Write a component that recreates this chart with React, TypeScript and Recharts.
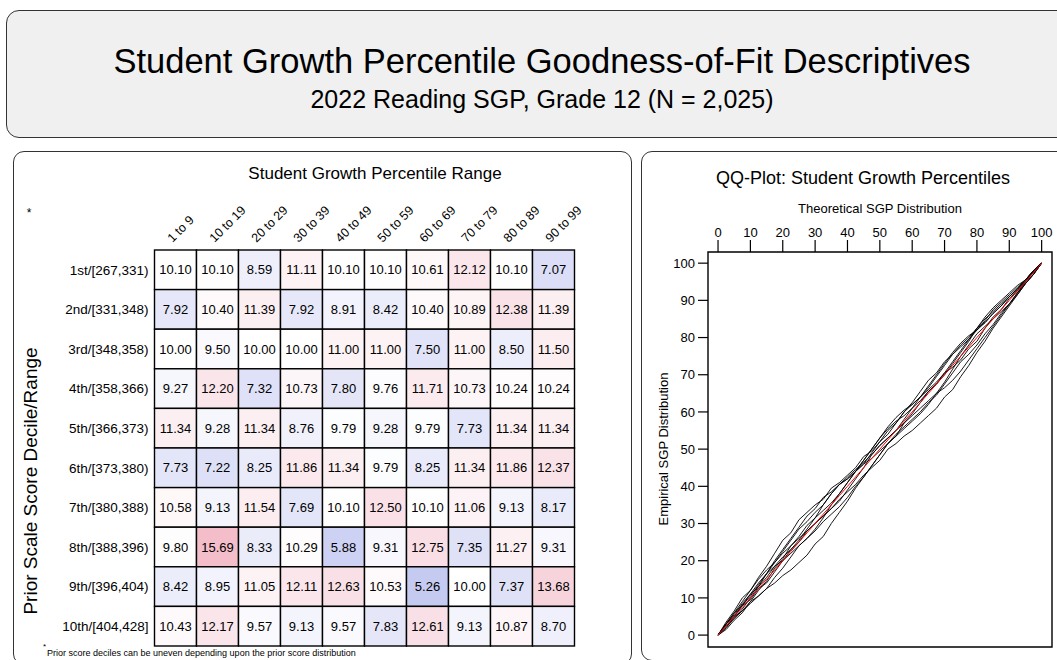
import React from "react";
import {
  Line,
  LineChart,
  ReferenceArea,
  Scatter,
  ScatterChart,
  XAxis,
  YAxis,
} from "recharts";

const FONT = '"Liberation Sans", Arial, Helvetica, sans-serif';

// heatmap: prior score decile rows x SGP range columns
const colLabels = ["1 to 9", "10 to 19", "20 to 29", "30 to 39", "40 to 49", "50 to 59", "60 to 69", "70 to 79", "80 to 89", "90 to 99"];
const rowLabels = [
  "1st/[267,331)",
  "2nd/[331,348)",
  "3rd/[348,358)",
  "4th/[358,366)",
  "5th/[366,373)",
  "6th/[373,380)",
  "7th/[380,388)",
  "8th/[388,396)",
  "9th/[396,404)",
  "10th/[404,428]",
];
const rowPct = ["(9.8%)", "(10%)", "(9.9%)", "(10.1%)", "(9.6%)", "(9.6%)", "(10.3%)", "(10.1%)", "(9.4%)", "(11.4%)"];

const dec1 = [10.1, 10.1, 8.59, 11.11, 10.1, 10.1, 10.61, 12.12, 10.1, 7.07];
const dec2 = [7.92, 10.4, 11.39, 7.92, 8.91, 8.42, 10.4, 10.89, 12.38, 11.39];
const dec3 = [10.0, 9.5, 10.0, 10.0, 11.0, 11.0, 7.5, 11.0, 8.5, 11.5];
const dec4 = [9.27, 12.2, 7.32, 10.73, 7.8, 9.76, 11.71, 10.73, 10.24, 10.24];
const dec5 = [11.34, 9.28, 11.34, 8.76, 9.79, 9.28, 9.79, 7.73, 11.34, 11.34];
const dec6 = [7.73, 7.22, 8.25, 11.86, 11.34, 9.79, 8.25, 11.34, 11.86, 12.37];
const dec7 = [10.58, 9.13, 11.54, 7.69, 10.1, 12.5, 10.1, 11.06, 9.13, 8.17];
const dec8 = [9.8, 15.69, 8.33, 10.29, 5.88, 9.31, 12.75, 7.35, 11.27, 9.31];
const dec9 = [8.42, 8.95, 11.05, 12.11, 12.63, 10.53, 5.26, 10.0, 7.37, 13.68];
const dec10 = [10.43, 12.17, 9.57, 9.13, 9.57, 7.83, 12.61, 9.13, 10.87, 8.7];
const decileRows = [dec1, dec2, dec3, dec4, dec5, dec6, dec7, dec8, dec9, dec10];

// QQ plot: theoretical vs empirical SGP per prior decile
const qqTicks = [0, 10, 20, 30, 40, 50, 60, 70, 80, 90, 100];
const qqX = [0, 2.5, 5, 7.5, 10, 12.5, 15, 17.5, 20, 22.5, 25, 27.5, 30, 32.5, 35, 37.5, 40, 42.5, 45, 47.5, 50, 52.5, 55, 57.5, 60, 62.5, 65, 67.5, 70, 72.5, 75, 77.5, 80, 82.5, 85, 87.5, 90, 92.5, 95, 97.5, 100];
const qq1 = [0, 3.5, 6.5, 10, 12, 15.5, 18.5, 22, 25.5, 27.5, 31, 33, 35, 36.5, 39.5, 41, 43, 45, 48, 49.5, 52, 54, 57, 60, 62.5, 65.5, 68.5, 70.5, 73.5, 75.5, 77.5, 79.5, 82, 84, 86.5, 88.5, 91, 93, 95.5, 98, 100];
const qq2 = [0, 2, 5, 6.5, 8.5, 10.5, 12.5, 14, 16, 17.5, 19.5, 21.5, 24.5, 26.5, 30, 33, 36, 39.5, 42.5, 45.5, 48.5, 51.5, 53.5, 57, 59.5, 62.5, 65.5, 67.5, 70.5, 72, 74, 77, 79, 82.5, 85.5, 87.5, 90.5, 92.5, 95, 98, 100];
const qq3 = [0, 3, 5, 8, 9.5, 12.5, 14, 17, 20, 23, 25, 28, 30, 32, 34, 36.5, 38.5, 40.5, 43, 45, 47, 50, 51.5, 53.5, 55, 57, 59, 61, 64, 66, 69.5, 72.5, 76, 79, 82.5, 85.5, 88.5, 91.5, 94.5, 97, 100];
const qq4 = [0, 3, 6, 8, 11, 13, 16.5, 19.5, 22.5, 25.5, 28.5, 30.5, 33, 35, 38, 40.5, 42.5, 44.5, 46.5, 48.5, 51, 53, 55, 57, 59, 61, 63, 65, 66.5, 68.5, 71, 74, 77, 80, 83, 86, 89, 92, 95, 97.5, 100];
const qq5 = [0, 1.5, 4, 6, 9, 12, 14.5, 18, 20.5, 24, 26.5, 29.5, 31.5, 33.5, 35.5, 38, 41, 44, 46, 49, 52, 55, 57, 60, 62, 64, 66.5, 69.5, 72.5, 75.5, 78, 80, 82.5, 84, 86.5, 88.5, 91, 93, 95.5, 98, 100];
const qq6 = [0, 3, 6, 9, 12, 15, 17.5, 19.5, 22, 24, 26, 28, 30, 32, 34, 36, 39, 42, 45, 48.5, 51, 53, 55, 58, 61, 64, 67, 70, 73, 76, 78.5, 80.5, 82, 84.5, 87.5, 89.5, 91.5, 93.5, 95.5, 98, 100];
const qq7 = [0, 2, 4.5, 6.5, 9, 10.5, 12.5, 15.5, 18, 21, 24, 26, 28, 30.5, 32.5, 34.5, 37, 40, 42.5, 45.5, 48.5, 51.5, 54, 56, 58, 60, 62.5, 64.5, 67.5, 70.5, 73.5, 75.5, 78, 81, 83.5, 86.5, 89, 92, 94.5, 97, 100];
const qq8 = [0, 3, 5, 8, 10.5, 13.5, 16.5, 20, 23, 26, 29, 32, 34, 37, 38.5, 40.5, 42, 44, 47, 50, 53, 55.5, 57.5, 59, 61, 63, 65.5, 67.5, 70, 73, 76, 79, 82.5, 85, 87, 89, 91, 93, 95, 98, 100];
const qq9 = [0, 2.5, 4.5, 7, 10, 13, 15.5, 18.5, 21, 23, 25.5, 28.5, 31.5, 35, 38, 40.5, 42, 44, 46, 47.5, 49.5, 51.5, 53.5, 55.5, 57.5, 59.5, 62, 65, 68, 71.5, 75, 78, 81, 83, 85, 87, 89, 91.5, 94.5, 97, 100];
const qq10 = [0, 3, 5.5, 8.5, 11, 14, 16.5, 18.5, 20, 22, 24, 26, 28.5, 31.5, 35, 38, 41, 44, 47, 50, 53, 56, 58.5, 60.5, 62, 64, 66, 68, 70.5, 73.5, 76.5, 79.5, 82.5, 85.5, 88, 90, 92, 94, 95.5, 98, 100];
const qqSeries = [qq1, qq2, qq3, qq4, qq5, qq6, qq7, qq8, qq9, qq10];

const qqRows = qqX.map((x, i) => {
  const row: Record<string, number> = { x, ref: x };
  qqSeries.forEach((s, k) => {
    row["d" + (k + 1)] = s[i];
  });
  return row;
});

const cellW = 42;
const cellH = 39.6;

function cellColor(v: number) {
  const d = v - 10;
  const t = d < 0 ? Math.min(1, -d / 6) : Math.min(1, d / 5.5);
  const end = d < 0 ? [182, 188, 237] : [243, 190, 202];
  const c = end.map((e) => Math.round(255 + (e - 255) * t));
  return `rgb(${c[0]},${c[1]},${c[2]})`;
}

function HeatCell(props: any) {
  const { cx, cy, payload } = props;
  return (
    <g>
      <rect
        x={cx - cellW / 2}
        y={cy - cellH / 2}
        width={cellW}
        height={cellH}
        fill={cellColor(payload.v)}
        stroke="#000"
        strokeWidth={1.4}
      />
      <text x={cx} y={cy} textAnchor="middle" dominantBaseline="central" fontSize={13} fill="#000" fontFamily={FONT}>
        {payload.v.toFixed(2)}
      </text>
    </g>
  );
}

function ColTick(props: any) {
  const { x, y, payload } = props;
  const lx = x - 3;
  return (
    <text x={lx} y={y} transform={`rotate(-45 ${lx} ${y})`} fontSize={12.5} fill="#000" textAnchor="start" fontFamily={FONT}>
      {colLabels[Math.floor(payload.value)]}
    </text>
  );
}

function HeatMap() {
  const pos = colLabels.map((_, i) => i + 0.5);
  const cells = decileRows.flatMap((vals, r) => vals.map((v, c) => ({ x: c + 0.5, y: r + 0.5, v })));
  return (
    <ScatterChart width={640} height={660} margin={{ top: 0, right: 0, bottom: 14, left: 0 }}>
      <XAxis
        type="number"
        dataKey="x"
        domain={[0, 10]}
        ticks={pos}
        interval={0}
        orientation="top"
        height={250}
        axisLine={false}
        tickLine={false}
        tickSize={0}
        tickMargin={7}
        tick={(p: any) => <ColTick {...p} />}
      />
      <YAxis
        type="number"
        dataKey="y"
        domain={[0, 10]}
        reversed
        ticks={pos}
        interval={0}
        width={154.5}
        axisLine={false}
        tickLine={false}
        tickSize={0}
        tickMargin={6}
        tickFormatter={(v: number) => rowLabels[Math.floor(v)]}
        tick={{ fill: "#000", fontSize: 13.5, fontFamily: FONT }}
      />
      <YAxis
        yAxisId="pct"
        orientation="right"
        type="number"
        domain={[0, 10]}
        reversed
        ticks={pos}
        interval={0}
        width={65.5}
        axisLine={false}
        tickLine={false}
        tickSize={0}
        tickMargin={4}
        tickFormatter={(v: number) => rowPct[Math.floor(v)]}
        tick={{ fill: "#000", fontSize: 13.5, fontFamily: FONT }}
      />
      <Scatter data={cells} isAnimationActive={false} shape={(p: any) => <HeatCell {...p} />} />
    </ScatterChart>
  );
}

function QQChart() {
  return (
    <LineChart width={417} height={510} data={qqRows} margin={{ top: 0, right: 5, bottom: 13, left: 0 }}>
      <XAxis
        type="number"
        dataKey="x"
        orientation="top"
        domain={[-3.1, 103.2]}
        allowDataOverflow
        ticks={qqTicks}
        interval={0}
        height={102}
        axisLine={false}
        tickSize={12}
        tickMargin={3}
        tickLine={{ stroke: "#000", strokeWidth: 1.2 }}
        tick={{ fill: "#000", fontSize: 13, fontFamily: FONT }}
      />
      <YAxis
        type="number"
        domain={[-3.2, 103]}
        allowDataOverflow
        ticks={qqTicks}
        interval={0}
        width={68}
        axisLine={false}
        tickSize={10}
        tickMargin={3}
        tickLine={{ stroke: "#000", strokeWidth: 1.2 }}
        tick={{ fill: "#000", fontSize: 13, fontFamily: FONT }}
      />
      <ReferenceArea x1={-3.1} x2={103.2} y1={-3.2} y2={103} fill="none" stroke="#000" strokeWidth={1.4} ifOverflow="visible" />
      {qqSeries.map((_, k) => (
        <Line
          key={k}
          dataKey={"d" + (k + 1)}
          type="linear"
          stroke="#000"
          strokeWidth={0.9}
          dot={false}
          activeDot={false}
          isAnimationActive={false}
        />
      ))}
      <Line dataKey="ref" type="linear" stroke="#ff0000" strokeWidth={1} dot={false} activeDot={false} isAnimationActive={false} />
    </LineChart>
  );
}

export default function App() {
  const box = {
    position: "absolute" as const,
    boxSizing: "border-box" as const,
    border: "1.5px solid #333",
  };
  return (
    <div style={{ position: "absolute", left: 0, top: 0, width: 1057, height: 660, overflow: "hidden", background: "#fff", fontFamily: FONT }}>
      <div style={{ ...box, left: 6, top: 10, width: 1090, height: 128, borderRadius: 13, background: "#f0f0f0" }} />
      <div style={{ ...box, left: 13, top: 151, width: 619, height: 514, borderRadius: 11 }} />
      <div style={{ ...box, left: 641, top: 151, width: 450, height: 510, borderRadius: 11 }} />
      <div style={{ position: "absolute", left: 0, top: 0 }}>
        <HeatMap />
      </div>
      <div style={{ position: "absolute", left: 640, top: 150 }}>
        <QQChart />
      </div>
      <svg width={1057} height={660} style={{ position: "absolute", left: 0, top: 0, pointerEvents: "none" }} fontFamily={FONT}>
        <text x={542} y={61} textAnchor="middle" dominantBaseline="central" fontSize={34.5} fill="#000">
          Student Growth Percentile Goodness-of-Fit Descriptives
        </text>
        <text x={542} y={99} textAnchor="middle" dominantBaseline="central" fontSize={25} fill="#000">
          2022 Reading SGP, Grade 12 (N = 2,025)
        </text>
        <text x={375} y={173} textAnchor="middle" dominantBaseline="central" fontSize={17} fill="#000">
          Student Growth Percentile Range
        </text>
        <text x={30} y={481} textAnchor="middle" dominantBaseline="central" fontSize={19} fill="#000" transform="rotate(-90 30 481)">
          Prior Scale Score Decile/Range
        </text>
        <text x={29} y={213} textAnchor="middle" dominantBaseline="central" fontSize={12} fill="#000">
          *
        </text>
        <text x={43} y={649} fontSize={8} fill="#000">
          *
        </text>
        <text x={47} y={656} fontSize={9} fill="#000">
          Prior score deciles can be uneven depending upon the prior score distribution
        </text>
        <text x={863} y={178} textAnchor="middle" dominantBaseline="central" fontSize={18} fill="#000">
          QQ-Plot: Student Growth Percentiles
        </text>
        <text x={880} y={208} textAnchor="middle" dominantBaseline="central" fontSize={13} fill="#000">
          Theoretical SGP Distribution
        </text>
        <text x={663} y={449} textAnchor="middle" dominantBaseline="central" fontSize={13} fill="#000" transform="rotate(-90 663 449)">
          Empirical SGP Distribution
        </text>
      </svg>
    </div>
  );
}
